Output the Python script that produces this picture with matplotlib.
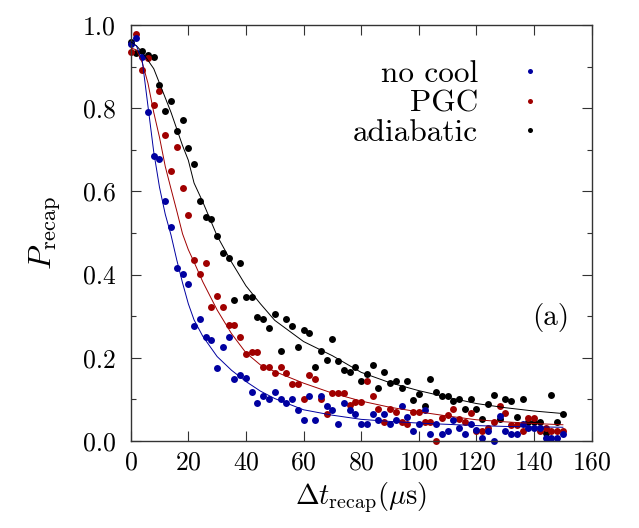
import matplotlib
matplotlib.use("Agg")
import matplotlib.pyplot as plt
from matplotlib.lines import Line2D
from matplotlib.ticker import MultipleLocator, FormatStrFormatter

plt.rcParams['font.family'] = 'serif'
plt.rcParams['font.serif'] = ['cmr10']
plt.rcParams['mathtext.fontset'] = 'cm'
plt.rcParams['axes.unicode_minus'] = False
plt.rcParams['axes.formatter.use_mathtext'] = True

# Measurement times (microseconds)
t_data = list(range(0, 152, 2))

p_nocool = [0.954, 0.968, 0.924, 0.792, 0.685, 0.677, 0.577, 0.515, 0.415, 0.401,
            0.377, 0.276, 0.293, 0.249, 0.243, 0.175, 0.225, 0.249, 0.149, 0.159,
            0.151, 0.117, 0.092, 0.108, 0.100, 0.117, 0.100, 0.092, 0.100, 0.074,
            0.050, 0.108, 0.050, 0.108, 0.084, 0.074, 0.042, 0.092, 0.074, 0.066,
            0.042, 0.042, 0.066, 0.050, 0.066, 0.042, 0.050, 0.084, 0.058, 0.025,
            0.042, 0.074, 0.017, 0.042, 0.017, 0.025, 0.050, 0.032, 0.016, 0.042,
            0.026, 0.008, 0.024, 0.000, 0.060, 0.024, 0.016, 0.016, 0.042, 0.032,
            0.032, 0.032, 0.008, 0.008, 0.008, 0.016]

p_pgc = [0.936, 0.978, 0.892, 0.920, 0.807, 0.842, 0.736, 0.650, 0.707, 0.607,
         0.543, 0.435, 0.401, 0.429, 0.321, 0.349, 0.321, 0.279, 0.279, 0.249,
         0.208, 0.213, 0.213, 0.179, 0.179, 0.164, 0.179, 0.164, 0.136, 0.136,
         0.100, 0.159, 0.149, 0.100, 0.064, 0.115, 0.115, 0.115, 0.087, 0.093,
         0.093, 0.145, 0.108, 0.076, 0.046, 0.076, 0.069, 0.046, 0.042, 0.069,
         0.069, 0.046, 0.046, 0.001, 0.055, 0.062, 0.076, 0.052, 0.046, 0.068,
         0.024, 0.024, 0.032, 0.046, 0.084, 0.068, 0.038, 0.038, 0.024, 0.055,
         0.055, 0.024, 0.032, 0.024, 0.024, 0.024]

p_adiabatic = [0.960, 0.932, 0.938, 0.928, 0.922, 0.855, 0.794, 0.817, 0.744, 0.772,
               0.705, 0.666, 0.577, 0.538, 0.533, 0.493, 0.451, 0.439, 0.339, 0.429,
               0.345, 0.345, 0.299, 0.293, 0.272, 0.305, 0.217, 0.293, 0.277, 0.227,
               0.267, 0.260, 0.179, 0.216, 0.195, 0.244, 0.193, 0.171, 0.167, 0.179,
               0.143, 0.161, 0.183, 0.127, 0.167, 0.139, 0.145, 0.127, 0.144, 0.099,
               0.112, 0.084, 0.149, 0.117, 0.107, 0.107, 0.096, 0.100, 0.076, 0.100,
               0.076, 0.053, 0.088, 0.111, 0.053, 0.100, 0.095, 0.058, 0.100, 0.046,
               0.046, 0.046, 0.018, 0.111, 0.046, 0.064]

# Model curves
t_fit = [0, 2, 4, 6, 8, 10, 12, 14, 16, 18, 20, 22, 25, 30, 35, 40, 45, 50,
         60, 70, 80, 90, 100, 110, 120, 130, 140, 150]
fit_nocool = [0.955, 0.950, 0.915, 0.805, 0.695, 0.610, 0.545, 0.495, 0.435, 0.380,
              0.330, 0.291, 0.252, 0.203, 0.170, 0.143, 0.120, 0.102, 0.075, 0.062,
              0.052, 0.047, 0.043, 0.040, 0.037, 0.035, 0.034, 0.033]
fit_pgc = [0.945, 0.940, 0.910, 0.860, 0.790, 0.730, 0.660, 0.606, 0.553, 0.498,
           0.460, 0.430, 0.383, 0.315, 0.258, 0.212, 0.183, 0.167, 0.139, 0.115,
           0.096, 0.081, 0.070, 0.060, 0.051, 0.046, 0.042, 0.039]
fit_adiabatic = [0.960, 0.950, 0.935, 0.915, 0.895, 0.860, 0.825, 0.790, 0.750, 0.710,
                 0.675, 0.620, 0.575, 0.493, 0.430, 0.373, 0.330, 0.290, 0.239, 0.205,
                 0.165, 0.140, 0.121, 0.105, 0.090, 0.080, 0.072, 0.066]

labels = ['no cool', 'PGC', 'adiabatic']
colors = ['#0000a0', '#a00000', '#000000']

fig = plt.figure(figsize=(6.39, 5.28), dpi=100)
ax = fig.add_axes([0.2045, 0.1648, 0.7215, 0.7879])

series = [(p_nocool, fit_nocool), (p_pgc, fit_pgc), (p_adiabatic, fit_adiabatic)]
for i in [2, 1, 0]:
    pts, fit = series[i]
    ax.plot(t_data, pts, 'o', color=colors[i], markersize=5, markeredgewidth=0,
            clip_on=False, zorder=2 + (2 - i) * 0.1)
for i in [2, 1, 0]:
    pts, fit = series[i]
    ax.plot(t_fit, fit, '-', color=colors[i], linewidth=0.7, zorder=3)

ax.set_xlim(0, 160)
ax.set_ylim(0, 1.0)
ax.xaxis.set_major_locator(MultipleLocator(20))
ax.yaxis.set_major_locator(MultipleLocator(0.2))
ax.yaxis.set_minor_locator(MultipleLocator(0.1))
ax.yaxis.set_major_formatter(FormatStrFormatter('%.1f'))
ax.tick_params(which='both', direction='in', top=True, right=True,
               labelsize=18.5, color='#333333')
ax.tick_params(which='major', length=7.5, width=0.8)
ax.tick_params(axis='x', which='major', pad=7)
ax.tick_params(axis='y', which='major', pad=11)
ax.tick_params(which='minor', length=3.6, width=0.8)
for s in ax.spines.values():
    s.set_color('#333333')
    s.set_linewidth(1.0)

ax.set_xlabel(r'$\Delta t_{\rm recap}(\mu{\rm s})$', fontsize=20.5, labelpad=4)
ax.set_ylabel(r'$P_{\rm recap}$', fontsize=23, labelpad=14)

handles = [Line2D([], [], linestyle='none', marker='o', markersize=3.6,
                  markeredgewidth=0, color=c) for c in colors]
ax.legend(handles, labels, loc='upper right', bbox_to_anchor=(0.900, 0.915),
          frameon=False, markerfirst=False, fontsize=22.5, labelspacing=0.05,
          handlelength=1.0, handletextpad=1.17, borderpad=0.0, borderaxespad=0.0)

ax.text(0.912, 0.298, '(a)', transform=ax.transAxes, fontsize=21,
        ha='center', va='center')

fig.savefig('out.png', dpi=100)
